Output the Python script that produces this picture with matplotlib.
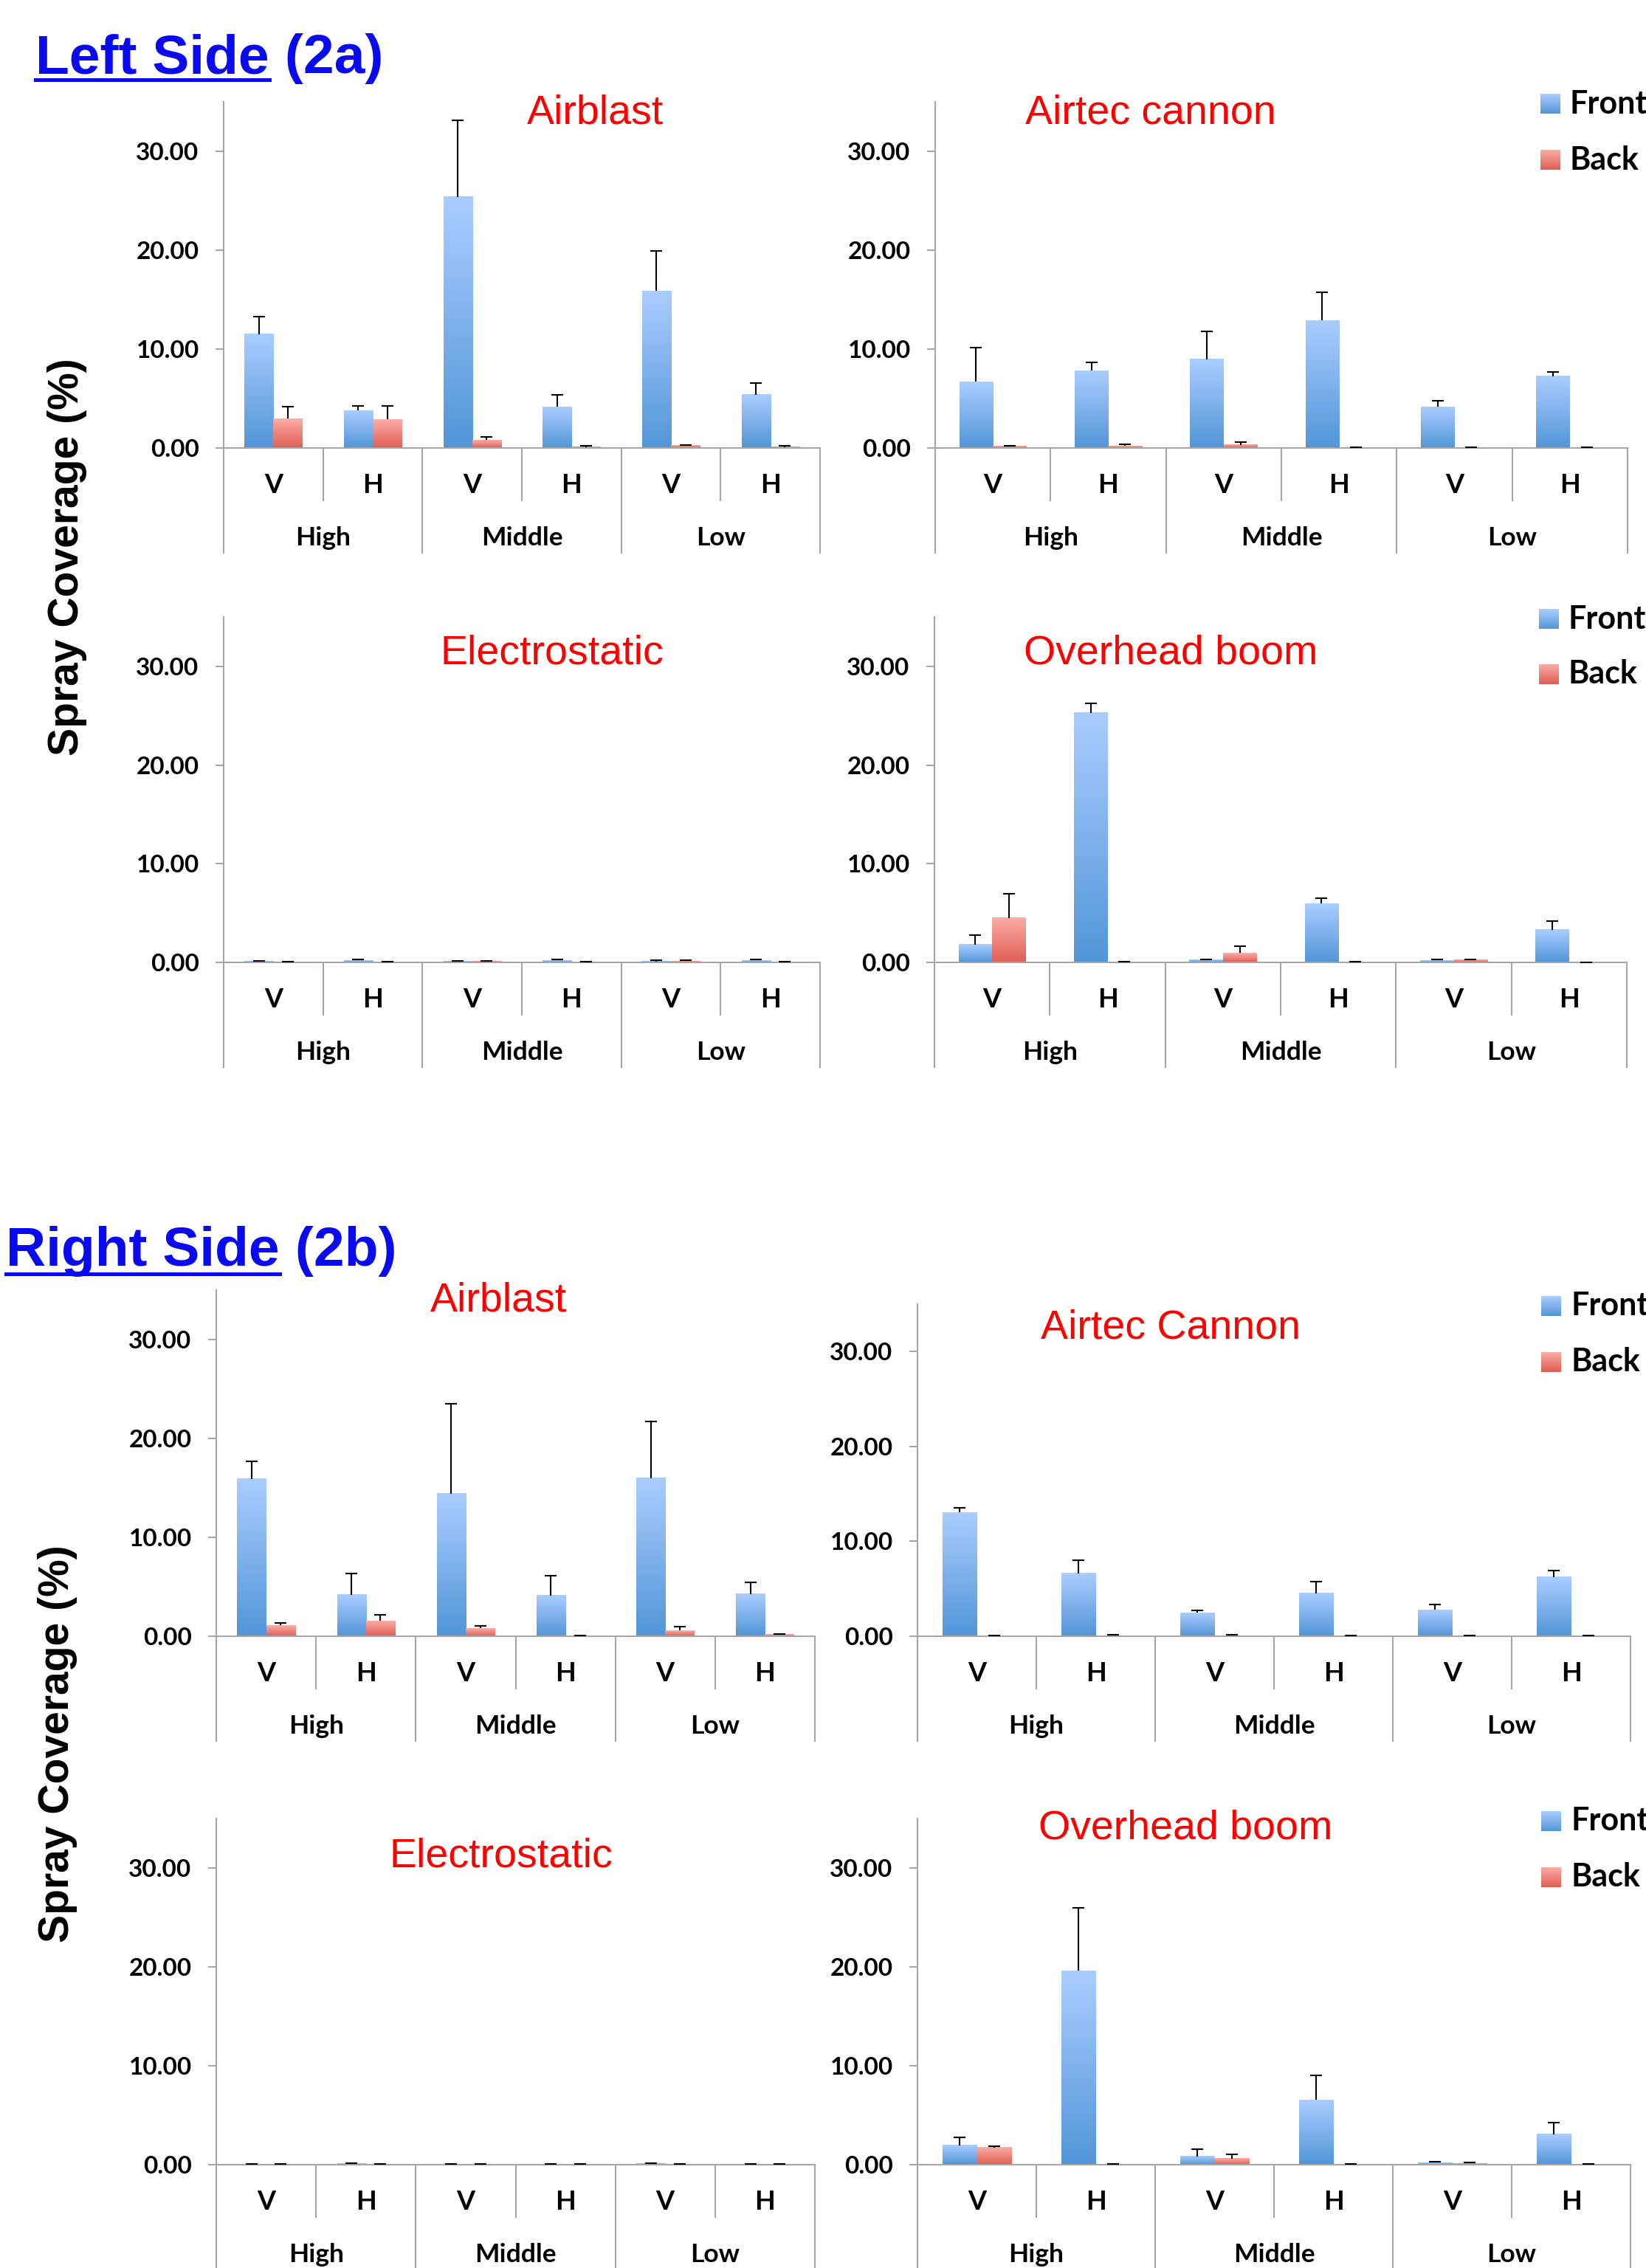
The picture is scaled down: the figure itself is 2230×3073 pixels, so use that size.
import numpy as np
import matplotlib
matplotlib.use('Agg')
import matplotlib.pyplot as plt
from matplotlib.transforms import blended_transform_factory
from matplotlib.lines import Line2D

# ---------------- data ----------------
categories = ['V', 'H', 'V', 'H', 'V', 'H']
groups = ['High', 'Middle', 'Low']
series = ['Front', 'Back']
yticks = [0, 10, 20, 30]
ylabel = 'Spray Coverage (%)'

# Left side (2a)
left_airblast_front = [11.51, 3.79, 25.40, 4.16, 15.86, 5.38]
left_airblast_front_err = [1.78, 0.48, 7.72, 1.19, 4.08, 1.16]
left_airblast_back = [2.97, 2.90, 0.82, 0.11, 0.26, 0.11]
left_airblast_back_err = [1.19, 1.37, 0.29, 0.15, 0.07, 0.15]

left_airtec_front = [6.68, 7.80, 8.99, 12.89, 4.16, 7.24]
left_airtec_front_err = [3.49, 0.85, 2.78, 2.85, 0.59, 0.45]
left_airtec_back = [0.15, 0.22, 0.33, 0.04, 0.04, 0.01]
left_airtec_back_err = [0.07, 0.15, 0.26, 0.03, 0.03, 0.03]

left_electro_front = [0.12, 0.20, 0.10, 0.20, 0.10, 0.20]
left_electro_front_err = [0.05, 0.12, 0.05, 0.08, 0.10, 0.10]
left_electro_back = [0.05, 0.05, 0.10, 0.03, 0.12, 0.02]
left_electro_back_err = [0.02, 0.02, 0.05, 0.04, 0.08, 0.02]

left_overhead_front = [1.83, 25.31, 0.23, 5.96, 0.20, 3.30]
left_overhead_front_err = [0.97, 0.93, 0.04, 0.53, 0.10, 0.90]
left_overhead_back = [4.50, 0.03, 0.97, 0.03, 0.23, 0.01]
left_overhead_back_err = [2.46, 0.04, 0.69, 0.04, 0.07, 0.02]

# Right side (2b)
right_airblast_front = [15.91, 4.19, 14.42, 4.12, 15.98, 4.26]
right_airblast_front_err = [1.81, 2.19, 9.09, 2.00, 5.71, 1.19]
right_airblast_back = [1.11, 1.56, 0.82, 0.07, 0.59, 0.15]
right_airblast_back_err = [0.22, 0.63, 0.22, 0.04, 0.37, 0.07]

right_airtec_front = [13.06, 6.65, 2.46, 4.54, 2.77, 6.23]
right_airtec_front_err = [0.45, 1.39, 0.24, 1.18, 0.59, 0.73]
right_airtec_back = [0.03, 0.07, 0.07, 0.03, 0.03, 0.03]
right_airtec_back_err = [0.04, 0.07, 0.07, 0.04, 0.04, 0.04]

right_electro_front = [0.05, 0.08, 0.05, 0.05, 0.08, 0.05]
right_electro_front_err = [0.05, 0.09, 0.05, 0.05, 0.09, 0.05]
right_electro_back = [0.05, 0.05, 0.06, 0.04, 0.05, 0.03]
right_electro_back_err = [0.05, 0.05, 0.05, 0.04, 0.05, 0.03]

right_overhead_front = [1.95, 19.60, 0.83, 6.53, 0.19, 3.07]
right_overhead_front_err = [0.84, 6.40, 0.71, 2.50, 0.13, 1.22]
right_overhead_back = [1.73, 0.06, 0.61, 0.06, 0.13, 0.03]
right_overhead_back_err = [0.16, 0.04, 0.41, 0.04, 0.13, 0.03]

panels = [
    ('Airblast', left_airblast_front, left_airblast_front_err, left_airblast_back, left_airblast_back_err),
    ('Airtec cannon', left_airtec_front, left_airtec_front_err, left_airtec_back, left_airtec_back_err),
    ('Electrostatic', left_electro_front, left_electro_front_err, left_electro_back, left_electro_back_err),
    ('Overhead boom', left_overhead_front, left_overhead_front_err, left_overhead_back, left_overhead_back_err),
    ('Airblast', right_airblast_front, right_airblast_front_err, right_airblast_back, right_airblast_back_err),
    ('Airtec Cannon', right_airtec_front, right_airtec_front_err, right_airtec_back, right_airtec_back_err),
    ('Electrostatic', right_electro_front, right_electro_front_err, right_electro_back, right_electro_back_err),
    ('Overhead boom', right_overhead_front, right_overhead_front_err, right_overhead_back, right_overhead_back_err),
]

# ---------------- layout (pixels) ----------------
W, H = 2230, 3073
DPI = 100
PT = DPI / 72.0

# left, right, y of 0, y of 35
boxes = [
    (303, 1111, 607, 138),
    (1267, 2205, 607, 138),
    (303, 1111, 1304, 836),
    (1266, 2204, 1304, 836),
    (293, 1104, 2217, 1748),
    (1243, 2209, 2217, 1767),
    (293, 1104, 2933, 2464),
    (1243, 2209, 2933, 2464),
]
# title centre x, baseline y
title_pos = [
    (807, 167), (1559, 167), (748, 900), (1586, 900),
    (676, 1777), (1586, 1814), (679, 2530), (1606, 2491),
]
# legend: (square x0, front y0, back y0) for right-column panels
legend_pos = {1: (2087, 127, 203), 3: (2085, 825, 900), 5: (2088, 1756, 1832), 7: (2088, 2454, 2530)}

GRAY = '#a6a6a6'
FRONT_TOP = np.array([170, 205, 255]) / 255
FRONT_BOT = np.array([82, 150, 216]) / 255
BACK_TOP = np.array([252, 172, 166]) / 255
BACK_BOT = np.array([222, 94, 84]) / 255
TICK_FONT = dict(family='Lato', weight='bold')
BLUE = '#0a0af0'


def gradient(top, bot, n=80):
    t = np.linspace(0, 1, n)[:, None]
    arr = top[None, :] * (1 - t) + bot[None, :] * t
    return arr[:, None, :]


G_FRONT = gradient(FRONT_TOP, FRONT_BOT)
G_BACK = gradient(BACK_TOP, BACK_BOT)

fig = plt.figure(figsize=(W / DPI, H / DPI), dpi=DPI)


def fig_rect(x0, y0, w, h):
    return [x0 / W, 1 - (y0 + h) / H, w / W, h / H]


x = np.arange(len(categories))
bw = 0.29

for i, (title, fr, fre, bk, bke) in enumerate(panels):
    l, r, y0, yt = boxes[i]
    hpx = y0 - yt
    ax = fig.add_axes([l / W, 1 - y0 / H, (r - l) / W, hpx / H])
    ax.set_xlim(-0.5, 5.5)
    ax.set_ylim(0, 35)
    for s in ['top', 'right']:
        ax.spines[s].set_visible(False)
    for s in ['left', 'bottom']:
        ax.spines[s].set_color(GRAY)
        ax.spines[s].set_linewidth(1.5)
    ax.set_xticks([])
    ax.set_yticks(yticks)
    ax.set_yticklabels(['%.2f' % v for v in yticks], **TICK_FONT)
    ax.tick_params(axis='y', direction='out', length=8, width=1.5, color=GRAY, pad=16, labelsize=24)

    fr = np.array(fr); bk = np.array(bk)
    fre = np.array(fre); bke = np.array(bke)
    bars_f = ax.bar(x - bw / 2, fr, bw, color='none', edgecolor='none')
    bars_b = ax.bar(x + bw / 2, bk, bw, color='none', edgecolor='none')
    for bars, g in ((bars_f, G_FRONT), (bars_b, G_BACK)):
        for b in bars:
            bx, bh, bwid = b.get_x(), b.get_height(), b.get_width()
            ax.imshow(g, extent=[bx, bx + bwid, 0, bh], aspect='auto', zorder=2,
                      interpolation='bilinear')
    for xs, v, e in ((x - bw / 2, fr, fre), (x + bw / 2, bk, bke)):
        ax.vlines(xs, v, v + e, color='black', lw=1.5, zorder=4)
        ax.plot(xs, v + e, ls='none', marker='_', ms=11.5, mew=1.5, color='black', zorder=4)
    ax.set_xlim(-0.5, 5.5)
    ax.set_ylim(0, 35)

    trans = blended_transform_factory(ax.transData, ax.transAxes)
    for xv in [-0.5, 1.5, 3.5, 5.5]:
        ax.add_line(Line2D([xv, xv], [0, -142 / hpx], transform=trans, clip_on=False, color=GRAY, lw=1.5))
    for xv in [0.5, 2.5, 4.5]:
        ax.add_line(Line2D([xv, xv], [0, -71 / hpx], transform=trans, clip_on=False, color=GRAY, lw=1.5))
    for k, c in enumerate(categories):
        ax.text(k, -50 / hpx, c, transform=trans, ha='center', va='center', fontsize=26, **TICK_FONT)
    for k, gname in enumerate(groups):
        ax.text(2 * k + 0.5, -122 / hpx, gname, transform=trans, ha='center', va='center', fontsize=25.5, **TICK_FONT)

    tx, ty = title_pos[i]
    fig.text(tx / W, 1 - ty / H, title, ha='center', va='baseline', color='#ff0000',
             fontsize=40, family='Liberation Sans')

    if i in legend_pos:
        lx, fy, byy = legend_pos[i]
        for yy, g, name in ((fy, G_FRONT, series[0]), (byy, G_BACK, series[1])):
            sq = fig.add_axes(fig_rect(lx, yy, 27, 27))
            sq.imshow(g, aspect='auto', interpolation='bilinear')
            sq.axis('off')
            fig.text((lx + 40) / W, 1 - (yy + 13.5) / H, name, ha='left', va='center',
                     fontsize=31, **TICK_FONT)

# y labels
for (cx, cy) in [(91, 755), (78, 2363)]:
    fig.text(cx / W, 1 - cy / H, ylabel, rotation=90, ha='center', va='center',
             fontsize=41, fontweight='bold', family='Liberation Sans')

# section headings with underline
renderer = fig.canvas.get_renderer()
for (hx, hy, uy, part1, part2) in [(48, 99.5, 108, 'Left Side', ' (2a)'),
                                    (8, 1714.5, 1726, 'Right Side', ' (2b)')]:
    t1 = fig.text(hx / W, 1 - hy / H, part1, ha='left', va='baseline', color=BLUE,
                  fontsize=54, fontweight='bold', family='Liberation Sans')
    bb = t1.get_window_extent(renderer=renderer)
    fig.text(bb.x1 / W, 1 - hy / H, part2, ha='left', va='baseline', color=BLUE,
             fontsize=54, fontweight='bold', family='Liberation Sans')
    fig.add_artist(Line2D([bb.x0 / W, bb.x1 / W], [1 - uy / H, 1 - uy / H], lw=5 / PT,
                          color=BLUE, transform=fig.transFigure))

fig.savefig('out.png', dpi=DPI)
